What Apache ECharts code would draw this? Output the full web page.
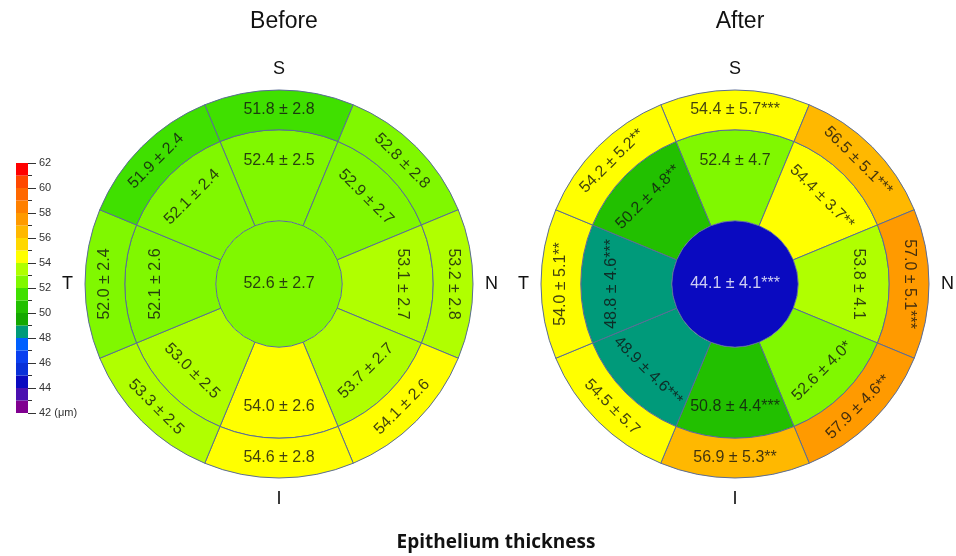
<!DOCTYPE html>
<html>
<head>
<meta charset="utf-8">
<script src="https://cdn.jsdelivr.net/npm/echarts@6/dist/echarts.min.js"></script>
<style>
html,body{margin:0;padding:0;background:#fff;}
#chart{width:956px;height:556px;}
</style>
</head>
<body>
<div id="chart"></div>
<script>
// ---- data ----
const sectors = ['S', 'SN', 'N', 'IN', 'I', 'IT', 'T', 'ST'];   // clockwise from top
const directionLabels = ['S', 'N', 'I', 'T'];

const beforeCenter = [52.6, 2.7, ''];
const beforeInnerMean = [52.4, 52.9, 53.1, 53.7, 54.0, 53.0, 52.1, 52.1];
const beforeInnerSD   = [2.5, 2.7, 2.7, 2.7, 2.6, 2.5, 2.6, 2.4];
const beforeInnerSig  = ['', '', '', '', '', '', '', ''];
const beforeOuterMean = [51.8, 52.8, 53.2, 54.1, 54.6, 53.3, 52.0, 51.9];
const beforeOuterSD   = [2.8, 2.8, 2.8, 2.6, 2.8, 2.5, 2.4, 2.4];
const beforeOuterSig  = ['', '', '', '', '', '', '', ''];

const afterCenter = [44.1, 4.1, '***'];
const afterInnerMean = [52.4, 54.4, 53.8, 52.6, 50.8, 48.9, 48.8, 50.2];
const afterInnerSD   = [4.7, 3.7, 4.1, 4.0, 4.4, 4.6, 4.6, 4.8];
const afterInnerSig  = ['', '**', '', '*', '***', '***', '***', '**'];
const afterOuterMean = [54.4, 56.5, 57.0, 57.9, 56.9, 54.5, 54.0, 54.2];
const afterOuterSD   = [5.7, 5.1, 5.1, 4.6, 5.3, 5.7, 5.1, 5.2];
const afterOuterSig  = ['***', '***', '***', '**', '**', '', '**', '**'];

// colour scale: one colour per 1 µm band, from 42 up to 62
const scaleMin = 42, scaleMax = 62;
const scaleColors = [
  '#800090', '#4a10b0', '#0a0ac0', '#0830d8', '#0a40f0',
  '#0060ff', '#009a7a', '#14a800', '#22c000', '#40e000',
  '#80f800', '#b0ff00', '#ffff00', '#ffd800', '#ffb800',
  '#ff9a00', '#ff8000', '#ff6800', '#ff4800', '#ff0000'
];

// ---- layout / style ----
const FONT = '"Liberation Sans", Arial, sans-serif';
const BORDER = '#5a6c96';
const ringEdges = [0, 32.5, 79.5, 100];      // radius-axis units
const labelRadius = [0, 63.4, 89.7];
const labelRotate = [0, -45, -90, 45, 0, -45, 90, 45];
const LABEL_SIZE = 16;

function colorOf(v) {
  let i = Math.floor(v - scaleMin);
  i = Math.max(0, Math.min(scaleColors.length - 1, i));
  return scaleColors[i];
}
function textColorOf(v) { return v < 47 ? '#ffffff' : '#111111'; }
function fmt(m, s, sig) {
  return m.toFixed(1) + ' \u00b1 ' + s.toFixed(1) + sig;
}

function centerSeries(polarIndex, center) {
  const c = colorOf(center[0]);
  return {
    type: 'bar',
    coordinateSystem: 'polar',
    polarIndex: polarIndex,
    barCategoryGap: '0%',
    silent: true,
    data: [{ value: ringEdges[1], itemStyle: { color: c, borderWidth: 0 } }],
    label: {
      show: false
    }
  };
}

function ringSeries(polarIndex, ringIdx, means) {
  const offset = ringEdges[ringIdx];
  const w = ringEdges[ringIdx + 1] - ringEdges[ringIdx];
  return {
    type: 'bar',
    coordinateSystem: 'polar',
    polarIndex: polarIndex,
    stack: 'ring' + polarIndex,
    barCategoryGap: '0%',
    barGap: '0%',
    silent: true,
    data: sectors.map((s, i) => {
      const c = colorOf(means[i]);
      if (means === null) return 0;
      return {
        value: w,
        itemStyle: { color: c, borderColor: BORDER, borderWidth: 1 }
      };
    })
  };
}
function ringSpacer(polarIndex) {
  // transparent stack base so the inner ring starts at the centre circle's edge
  return {
    type: 'bar',
    coordinateSystem: 'polar',
    polarIndex: polarIndex,
    stack: 'ring' + polarIndex,
    barCategoryGap: '0%',
    barGap: '0%',
    silent: true,
    itemStyle: { color: 'transparent', borderWidth: 0 },
    data: sectors.map(() => ringEdges[1])
  };
}

function centerLabel(polarIndex, center) {
  return {
    type: 'scatter',
    coordinateSystem: 'polar',
    polarIndex: polarIndex,
    symbolSize: 1,
    silent: true,
    z: 5,
    itemStyle: { color: 'transparent' },
    label: { show: true, position: 'inside', fontSize: LABEL_SIZE, fontFamily: FONT,
             color: textColorOf(center[0]), formatter: fmt(center[0], center[1], center[2]) },
    data: [[0, 'C']]
  };
}

function labelSeries(polarIndex, innerM, innerS, innerG, outerM, outerS, outerG) {
  const data = [];
  sectors.forEach((s, i) => {
    data.push({ value: [labelRadius[1], s],
      label: { formatter: fmt(innerM[i], innerS[i], innerG[i]), rotate: labelRotate[i],
               color: textColorOf(innerM[i]) } });
    data.push({ value: [labelRadius[2], s],
      label: { formatter: fmt(outerM[i], outerS[i], outerG[i]), rotate: labelRotate[i],
               color: textColorOf(outerM[i]) } });
  });
  return {
    type: 'scatter',
    coordinateSystem: 'polar',
    polarIndex: polarIndex,
    symbolSize: 1,
    silent: true,
    z: 5,
    itemStyle: { color: 'transparent' },
    label: { show: true, position: 'inside', fontSize: LABEL_SIZE, fontFamily: FONT },
    data: data
  };
}

function angleAxis(polarIndex, data, showLabels) {
  return {
    polarIndex: polarIndex,
    type: 'category',
    data: data,
    startAngle: 112.5,
    clockwise: true,
    boundaryGap: true,
    axisLine: { show: false },
    axisTick: { show: false },
    splitLine: { show: false },
    axisLabel: {
      show: showLabels,
      margin: 12,
      fontSize: 18,
      fontFamily: FONT,
      color: '#111',
      formatter: v => directionLabels.indexOf(v) >= 0 ? v : ''
    }
  };
}
function radiusAxis(polarIndex) {
  return { polarIndex: polarIndex, type: 'value', min: 0, max: 100,
           axisLine: { show: false }, axisTick: { show: false },
           axisLabel: { show: false }, splitLine: { show: false } };
}

const option = {
  animation: false,
  backgroundColor: '#ffffff',
  title: [
    { text: 'Before', left: 279, top: 5, textAlign: 'center',
      textStyle: { fontFamily: FONT, fontSize: 23, fontWeight: 'normal', color: '#111' } },
    { text: 'After', left: 735, top: 5, textAlign: 'center',
      textStyle: { fontFamily: FONT, fontSize: 23, fontWeight: 'normal', color: '#111' } },
    { text: 'Epithelium thickness', left: 491, top: 528, textAlign: 'center',
      textStyle: { fontFamily: '"Open Sans", "Noto Sans", sans-serif', fontSize: 19, fontWeight: 'bold', color: '#111' } }
  ],
  polar: [
    { center: [279, 284], radius: 194 },
    { center: [735, 284], radius: 194 },
    { center: [279, 284], radius: 194 },
    { center: [735, 284], radius: 194 }
  ],
  angleAxis: [
    angleAxis(0, sectors, true), angleAxis(1, sectors, true),
    angleAxis(2, ['C'], false), angleAxis(3, ['C'], false)
  ],
  radiusAxis: [radiusAxis(0), radiusAxis(1), radiusAxis(2), radiusAxis(3)],
  grid: { left: 16, top: 163, width: 12, height: 250 },
  xAxis: { type: 'category', data: ['scale'], show: false },
  yAxis: {
    type: 'value', min: scaleMin, max: scaleMax, interval: 2, position: 'right',
    axisLine: { show: false },
    axisTick: { show: true, length: 8, lineStyle: { color: '#333' } },
    minorTick: { show: true, splitNumber: 2, length: 4, lineStyle: { color: '#333' } },
    splitLine: { show: false },
    axisLabel: { margin: 11, fontSize: 11, fontFamily: FONT, color: '#333',
                 formatter: v => v === scaleMin ? v + ' (\u03bcm)' : String(v) }
  },
  series: [
    centerSeries(2, beforeCenter),
    centerSeries(3, afterCenter),
    ringSpacer(0),
    ringSeries(0, 1, beforeInnerMean),
    ringSeries(0, 2, beforeOuterMean),
    ringSpacer(1),
    ringSeries(1, 1, afterInnerMean),
    ringSeries(1, 2, afterOuterMean),
    centerLabel(2, beforeCenter),
    centerLabel(3, afterCenter),
    labelSeries(0, beforeInnerMean, beforeInnerSD, beforeInnerSig,
                beforeOuterMean, beforeOuterSD, beforeOuterSig),
    labelSeries(1, afterInnerMean, afterInnerSD, afterInnerSig,
                afterOuterMean, afterOuterSD, afterOuterSig),
    {
      type: 'custom',
      xAxisIndex: 0, yAxisIndex: 0,
      silent: true,
      data: scaleColors.map((c, i) => [0, scaleMin + i, scaleMin + i + 1]),
      encode: { x: 0, y: [1, 2] },
      renderItem: function (params, api) {
        const lo = api.coord([api.value(0), api.value(1)]);
        const hi = api.coord([api.value(0), api.value(2)]);
        const w = api.size([1, 0])[0];
        return {
          type: 'rect',
          shape: { x: lo[0] - w / 2, y: hi[1], width: w, height: lo[1] - hi[1] },
          style: { fill: scaleColors[params.dataIndex] }
        };
      }
    }
  ]
};

const chart = echarts.init(document.getElementById('chart'), null, { renderer: 'canvas' });
chart.setOption(option);
</script>
</body>
</html>
